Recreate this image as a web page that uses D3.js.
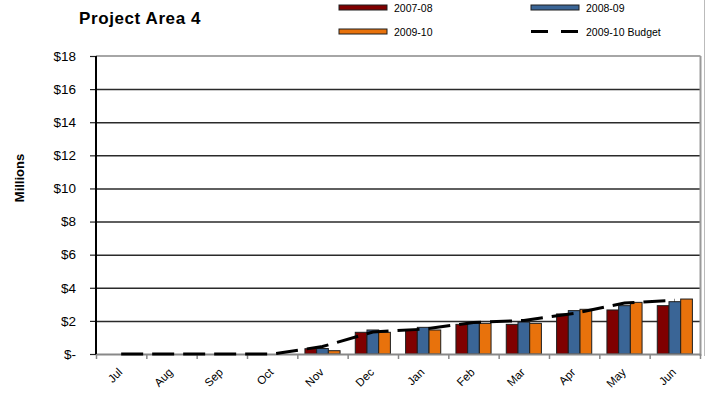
<!DOCTYPE html>
<html>
<head>
<meta charset="utf-8">
<script src="https://cdn.jsdelivr.net/npm/d3@7"></script>
<style>
  body { margin: 0; background: #fff; }
  svg { display: block; font-family: Arial, "Liberation Sans", sans-serif; }
  .y.axis path { display: none; }
  .grid path { display: none; }
</style>
</head>
<body>
<script>
// ---- data ----
var months = ["Jul","Aug","Sep","Oct","Nov","Dec","Jan","Feb","Mar","Apr","May","Jun"];
var seriesNames = ["2007-08","2008-09","2009-10"];
var seriesColors = ["#7f0000","#3a6596","#e8720c"];
var fy0708 = [0,0,0,0,0.32,1.31,1.43,1.79,1.79,2.42,2.66,2.92];
var fy0809 = [0,0,0,0,0.33,1.45,1.61,1.88,1.93,2.62,2.92,3.16];
var fy0910 = [0,0,0,0,0.20,1.31,1.45,1.85,1.85,2.70,3.12,3.32];
var budget0910 = [0,0,0,0,0.45,1.33,1.50,1.90,2.03,2.45,3.08,3.25];
var yTicks = [0,2,4,6,8,10,12,14,16,18];

// ---- layout ----
var width_outer = 706;
var height_outer = 394;
var plotLeft = 96, plotRight = 700, plotTop = 56, plotBottom = 354;

var svg = d3.select("body").append("svg")
  .attr("width", width_outer)
  .attr("height", height_outer);

var y = d3.scaleLinear().domain([0, 18]).range([plotBottom, plotTop]);
var x0 = d3.scaleBand().domain(months).range([plotLeft, plotRight]);
var x1 = d3.scaleBand().domain(seriesNames).range([0, x0.bandwidth()])
  .paddingInner(0).paddingOuter(0.65);
var xb = d3.scaleLinear().domain([0, 12]).range([plotLeft, plotRight]);

// gridlines
svg.append("g")
  .attr("class", "grid")
  .attr("transform", "translate(" + plotLeft + ",0)")
  .call(d3.axisLeft(y).tickValues(yTicks.slice(1, -1)).tickSize(-(plotRight - plotLeft)).tickFormat(""))
  .selectAll("line")
    .attr("stroke", "#2a2a2a")
    .attr("stroke-width", 1.5);

// top and right border
svg.append("line")
  .attr("x1", plotLeft).attr("x2", plotRight + 0.5)
  .attr("y1", y(18)).attr("y2", y(18))
  .attr("stroke", "#888").attr("stroke-width", 1.5);
svg.append("line")
  .attr("x1", plotRight + 0.5).attr("x2", plotRight + 0.5)
  .attr("y1", plotTop).attr("y2", plotBottom + 2)
  .attr("stroke", "#999").attr("stroke-width", 2);
svg.append("line")
  .attr("x1", 704.5).attr("x2", 704.5)
  .attr("y1", 0).attr("y2", plotBottom + 2)
  .attr("stroke", "#bbb").attr("stroke-width", 1);

// bars
var rows = months.map(function(m, i) {
  return {month: m, values: [fy0708[i], fy0809[i], fy0910[i]]};
});
var groups = svg.selectAll(".grp")
  .data(rows)
  .enter().append("g")
    .attr("class", "grp")
    .attr("transform", function(d) { return "translate(" + x0(d.month) + ",0)"; });
groups.selectAll("rect")
  .data(function(d) {
    return d.values.map(function(v, k) { return {name: seriesNames[k], v: v, k: k}; })
      .filter(function(e) { return e.v > 0; });
  })
  .enter().append("rect")
    .attr("x", function(d) { return x1(d.name); })
    .attr("width", x1.bandwidth())
    .attr("y", function(d) { return y(d.v); })
    .attr("height", function(d) { return y(0) - y(d.v); })
    .attr("fill", function(d) { return seriesColors[d.k]; })
    .attr("stroke", "#1e1e1e")
    .attr("stroke-width", 1);

// x axis line and ticks
svg.append("g")
  .attr("class", "x axis")
  .attr("transform", "translate(0," + plotBottom + ")")
  .call(d3.axisBottom(xb).ticks(12).tickSize(5).tickSizeOuter(0).tickFormat(""))
  .call(function(g) {
    g.select(".domain").attr("stroke", "#888").attr("stroke-width", 2);
    g.selectAll(".tick line").attr("stroke", "#888").attr("stroke-width", 1.5);
  });

// y axis
svg.append("g")
  .attr("class", "y axis")
  .attr("transform", "translate(" + plotLeft + ",0)")
  .call(d3.axisLeft(y).tickValues(yTicks).tickSize(6).tickPadding(14)
    .tickFormat(function(d) { return d === 0 ? "$-" : "$" + d; }))
  .call(function(g) {
    g.selectAll(".tick line").attr("stroke", "#222").attr("stroke-width", 1.2);
    g.selectAll(".tick text").attr("font-size", 13.5).attr("fill", "#000")
      .attr("font-family", "Arial, 'Liberation Sans', sans-serif");
  });
svg.append("line")
  .attr("x1", plotLeft).attr("x2", plotLeft)
  .attr("y1", plotTop).attr("y2", plotBottom)
  .attr("stroke", "#000").attr("stroke-width", 2);

// budget line
var line = d3.line()
  .x(function(d, i) { return x0(months[i]) + x0.bandwidth() / 2; })
  .y(function(d) { return y(d); });
svg.append("path")
  .datum(budget0910)
  .attr("d", line)
  .attr("fill", "none")
  .attr("stroke", "#000")
  .attr("stroke-width", 3)
  .attr("stroke-dasharray", "22,9");

// x labels
svg.selectAll(".xlabel")
  .data(months)
  .enter().append("text")
    .attr("class", "xlabel")
    .attr("transform", function(d) {
      return "translate(" + (x0(d) + x0.bandwidth() / 2 + 2) + ",373) rotate(-45)";
    })
    .attr("text-anchor", "end")
    .attr("font-size", 11.5)
    .text(function(d) { return d; });

// y title
svg.append("text")
  .attr("transform", "translate(24,178) rotate(-90)")
  .attr("text-anchor", "middle")
  .attr("font-size", 13)
  .attr("font-weight", "bold")
  .text("Millions");

// chart title
svg.append("text")
  .attr("x", 79).attr("y", 24)
  .attr("font-size", 17)
  .attr("font-weight", "bold")
  .attr("letter-spacing", 0.6)
  .text("Project Area 4");

// legend
var legendItems = [
  {name: "2007-08", color: seriesColors[0], x: 339, y: 5},
  {name: "2008-09", color: seriesColors[1], x: 531, y: 5},
  {name: "2009-10", color: seriesColors[2], x: 339, y: 29}
];
var legend = svg.append("g").attr("class", "legend");
legendItems.forEach(function(it) {
  legend.append("rect")
    .attr("x", it.x).attr("y", it.y)
    .attr("width", 48).attr("height", 5)
    .attr("fill", it.color)
    .attr("stroke", "#1e1e1e").attr("stroke-width", 1);
  legend.append("text")
    .attr("x", it.x + 55).attr("y", it.y + 6.5)
    .attr("font-size", 10.5)
    .text(it.name);
});
legend.append("line")
  .attr("x1", 531).attr("x2", 580)
  .attr("y1", 31.5).attr("y2", 31.5)
  .attr("stroke", "#000").attr("stroke-width", 3)
  .attr("stroke-dasharray", "17,13");
legend.append("text")
  .attr("x", 586).attr("y", 35.5)
  .attr("font-size", 10.5)
  .text("2009-10 Budget");
</script>
</body>
</html>
